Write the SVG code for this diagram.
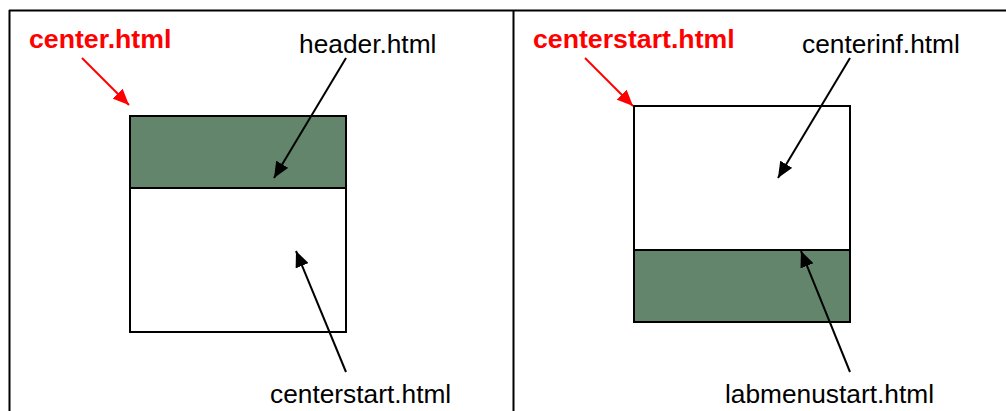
<svg xmlns="http://www.w3.org/2000/svg" width="1006" height="411" viewBox="0 0 1006 411">
<style>
.frame{stroke:#000;stroke-width:2;fill:none}
.box{stroke:#000;stroke-width:2}
.g{fill:#63856b}
.w{fill:#fff}
.lbl{font-family:"Liberation Sans",Arial,sans-serif;font-size:26.3px;fill:#000}
.red{font-family:"Liberation Sans",Arial,sans-serif;font-size:26.7px;font-weight:bold;fill:#ff0000}
.ab{stroke:#000;stroke-width:2;fill:none;marker-end:url(#hb)}
.ar{stroke:#ff0000;stroke-width:2;fill:none;marker-end:url(#hr)}
</style>
<defs>
<marker id="hb" markerUnits="userSpaceOnUse" markerWidth="18" markerHeight="14" refX="16" refY="7" orient="auto">
<path d="M0,0 L16,7 L0,14 Z" fill="#000"/>
</marker>
<marker id="hr" markerUnits="userSpaceOnUse" markerWidth="18" markerHeight="14" refX="16" refY="7" orient="auto">
<path d="M0,0 L16,7 L0,14 Z" fill="#ff0000"/>
</marker>
</defs>
<rect width="1006" height="411" fill="#fff"/>
<g id="frame">
<line class="frame" x1="9" y1="10.5" x2="1006" y2="10.5"/>
<line class="frame" x1="9.5" y1="10" x2="9.5" y2="411"/>
<line class="frame" x1="513.5" y1="10" x2="513.5" y2="411"/>
</g>
<g id="left-header"><rect class="box g" x="130" y="116" width="216" height="72"/></g>
<g id="left-body"><rect class="box w" x="130" y="188" width="216" height="144"/></g>
<g id="right-top"><rect class="box w" x="634" y="106" width="216" height="144"/></g>
<g id="right-bottom"><rect class="box g" x="634" y="250" width="216" height="72"/></g>
<g id="labels">
<text class="red" x="29" y="48">center.html</text>
<text class="lbl" x="299" y="53">header.html</text>
<text class="lbl" x="270" y="403">centerstart.html</text>
<text class="red" x="533" y="48">centerstart.html</text>
<text class="lbl" x="802" y="53">centerinf.html</text>
<text class="lbl" x="725" y="403">labmenustart.html</text>
</g>
<g id="connectors">
<line class="ar" x1="82" y1="58" x2="129" y2="105"/>
<line class="ar" x1="585" y1="58" x2="633" y2="106"/>
<line class="ab" x1="346" y1="58" x2="274" y2="178"/>
<line class="ab" x1="850" y1="58" x2="778" y2="178"/>
<line class="ab" x1="346" y1="372" x2="296" y2="251"/>
<line class="ab" x1="850" y1="372" x2="801" y2="251"/>
</g>
</svg>
